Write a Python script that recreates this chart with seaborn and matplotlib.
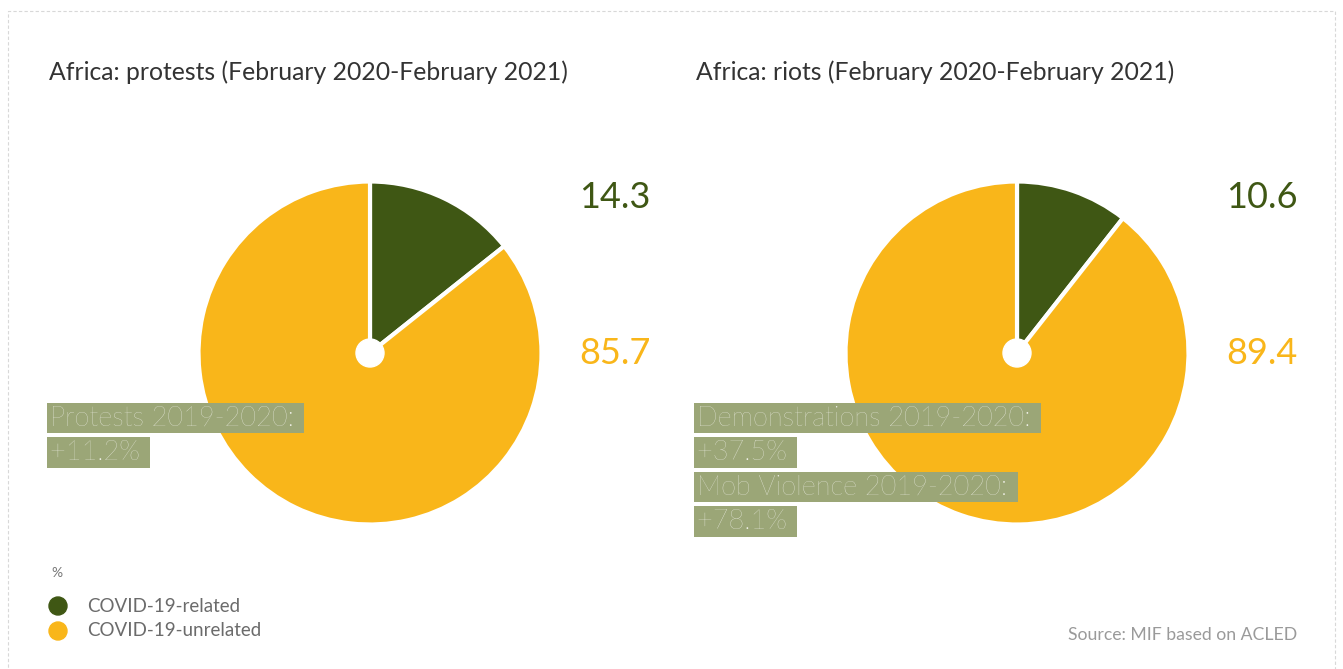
"""
Africa: protests and riots, COVID-19-related share (Feb 2020 - Feb 2021)
Two pies with a centre hole, value labels on the right and change notes.
"""
import numpy as np
import seaborn as sns
import matplotlib.pyplot as plt
from matplotlib.patches import Rectangle, Ellipse

sns.set_theme(style="white")
plt.rcParams["font.family"] = ["Lato", "DejaVu Sans"]

# -----------------------------------------------------------------
# Data
# -----------------------------------------------------------------
categories = ["COVID-19-related", "COVID-19-unrelated"]
protests = [14.3, 85.7]
riots = [10.6, 89.4]
titles = ["Africa: protests (February 2020-February 2021)",
          "Africa: riots (February 2020-February 2021)"]
notes_protests = ["Protests 2019-2020: ", "+11.2% "]
notes_riots = ["Demonstrations 2019-2020: ", "+37.5% ",
               "Mob Violence 2019-2020: ", "+78.1% "]
source = "Source: MIF based on ACLED"

colors = ["#3f5714", "#f9b61a"]
note_bg = "#9ba677"
note_fg = "#f3f3ec"

W, H = 1343, 669
fig = plt.figure(figsize=(W / 100, H / 100), dpi=100)
fig.patch.set_facecolor("white")


def fx(px):
    return px / W


def fy(py):
    return 1 - py / H


# dashed frame
fig.patches.append(Rectangle((fx(8), fy(700)), fx(1327), (700 - 11) / H,
                             transform=fig.transFigure, fill=False,
                             ls=(0, (3, 2)), lw=0.8, ec="#d8d8d8"))

R = 171.5
panels = [(370, protests, titles[0], notes_protests),
          (1017, riots, titles[1], notes_riots)]

for cx, vals, title, notes in panels:
    ax = fig.add_axes([fx(cx - R), fy(353 + R), fx(2 * R), 2 * R / H])
    ax.pie(vals, colors=colors, startangle=90, counterclock=False, radius=1,
           wedgeprops=dict(edgecolor="white", linewidth=3))
    ax.add_patch(plt.Circle((0, 0), 14 / R, color="white", zorder=5))
    ax.set_xlim(-1, 1)
    ax.set_ylim(-1, 1)
    ax.set_aspect("equal")
    ax.axis("off")

    left = cx - 321
    fig.text(fx(left), fy(72), title, fontsize=17.8, color="#333333", va="center")

    # values to the right of the pie
    fig.text(fx(cx + 209), fy(198), f"{vals[0]}", fontsize=26, color=colors[0], va="center")
    fig.text(fx(cx + 209), fy(353), f"{vals[1]}", fontsize=26, color=colors[1], va="center")

    # change notes
    for i, line in enumerate(notes):
        fig.text(fx(left + 1), fy(418 + 34.5 * i), line, fontsize=19.5, fontweight="light",
                 color=note_fg, va="center", zorder=10,
                 bbox=dict(boxstyle="square,pad=0.1", fc=note_bg, ec="none"))

# legend
fig.text(fx(51), fy(573), "%", fontsize=10, color="#777777", va="center")
for i, (lab, c) in enumerate(zip(categories, colors)):
    y = 606 + 25 * i
    fig.patches.append(Ellipse((fx(58), fy(y)), 18 / W, 18 / H,
                               transform=fig.transFigure, color=c))
    fig.text(fx(87), fy(y), lab, fontsize=13.5, color="#6b6b6b", va="center")

fig.text(fx(1297), fy(635), source, fontsize=12.7, color="#9a9a9a", va="center", ha="right")

fig.savefig("out.png", dpi=100, facecolor="white")
